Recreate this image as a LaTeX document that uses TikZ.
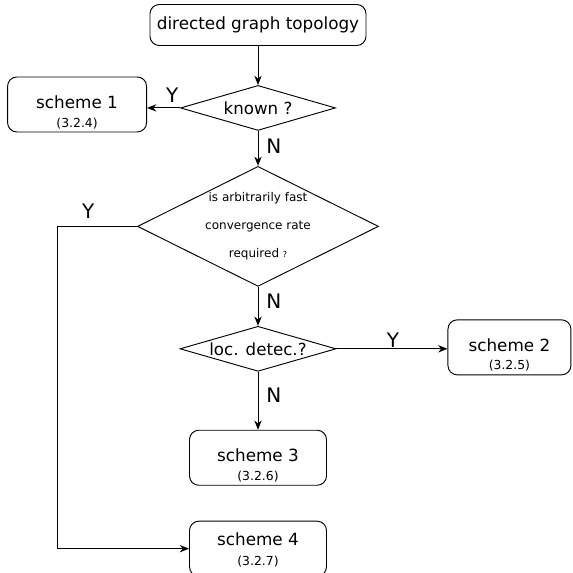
\documentclass[tikz,border=0pt]{standalone}
\usepackage{fontspec}
\setmainfont{DejaVu Sans}
\usetikzlibrary{arrows.meta,positioning,shapes.geometric}

\begin{document}
\begin{tikzpicture}[
  x=0.75pt,y=-0.75pt,
  node distance=29pt and 25pt,
  stg/.style={draw,line width=0.7pt,rounded corners=7pt,minimum width=102.75pt,minimum height=41.25pt,align=center,inner sep=0pt,font=\fontsize{12.6}{14}\selectfont},
  dec/.style={draw,diamond,line width=0.7pt,aspect=3.4,inner sep=0pt,minimum width=116.25pt,minimum height=33.75pt,font=\fontsize{12.5}{14}\selectfont},
  arr/.style={-{Stealth[length=7pt,width=5.5pt]},line width=0.7pt},
  yn/.style={font=\fontsize{15}{17}\selectfont,inner sep=1pt}
]
\useasboundingbox (0,0) rectangle (573,572);

\node[stg,minimum width=162pt,minimum height=30.75pt] (topo) at (258,25) {directed graph topology};
\node[dec,below=29.25pt of topo] (known) {known ?};
\node[stg,minimum width=104.25pt,left=24.75pt of known,yshift=2.6pt] (sch1) {\rule{0pt}{22pt}scheme 1\\[0pt]{\fontsize{9.3}{11}\selectfont(3.2.4)}};
\node[dec,aspect=2,inner sep=-4pt,minimum width=180.75pt,minimum height=90pt,align=center,font=\fontsize{9}{21}\selectfont,below=26.25pt of known] (fast) {is arbitrarily fast\\convergence rate\\required {\fontsize{6}{7}\selectfont ?}};
\node[dec,minimum width=117pt,below=29.25pt of fast] (loc) {loc. detec.?};
\node[stg,minimum width=92.25pt,right=83.25pt of loc,yshift=1.1pt] (sch2) {\rule{0pt}{21pt}scheme 2\\[0pt]{\fontsize{9.3}{11}\selectfont(3.2.5)}};
\node[stg,below=43.5pt of loc] (sch3) {\rule{0pt}{21pt}scheme 3\\[0pt]{\fontsize{9.3}{11}\selectfont(3.2.6)}};
\node[stg,below=26.25pt of sch3] (sch4) {\rule{0pt}{12pt}scheme 4\\[1pt]{\fontsize{9.3}{11}\selectfont(3.2.7)}};

\draw[arr] (topo) -- (known);
\draw[arr] (known.west) -- node[yn,above=3pt,pos=0.24]{Y} (known.west -| sch1.east);
\draw[arr] (known) -- node[yn,right=5pt,pos=0.43]{N} (fast);
\draw[arr] (fast.west) -- node[yn,above=4.5pt,pos=0.61]{Y} ++(-60pt,0) |- (sch4.west);
\draw[arr] (fast) -- node[yn,right=5pt,pos=0.36]{N} (loc);
\draw[arr] (loc.east) -- node[yn,above,pos=0.51]{Y} (loc.east -| sch2.west);
\draw[arr] (loc) -- node[yn,right=5pt,pos=0.4]{N} (sch3);
\end{tikzpicture}
\end{document}
